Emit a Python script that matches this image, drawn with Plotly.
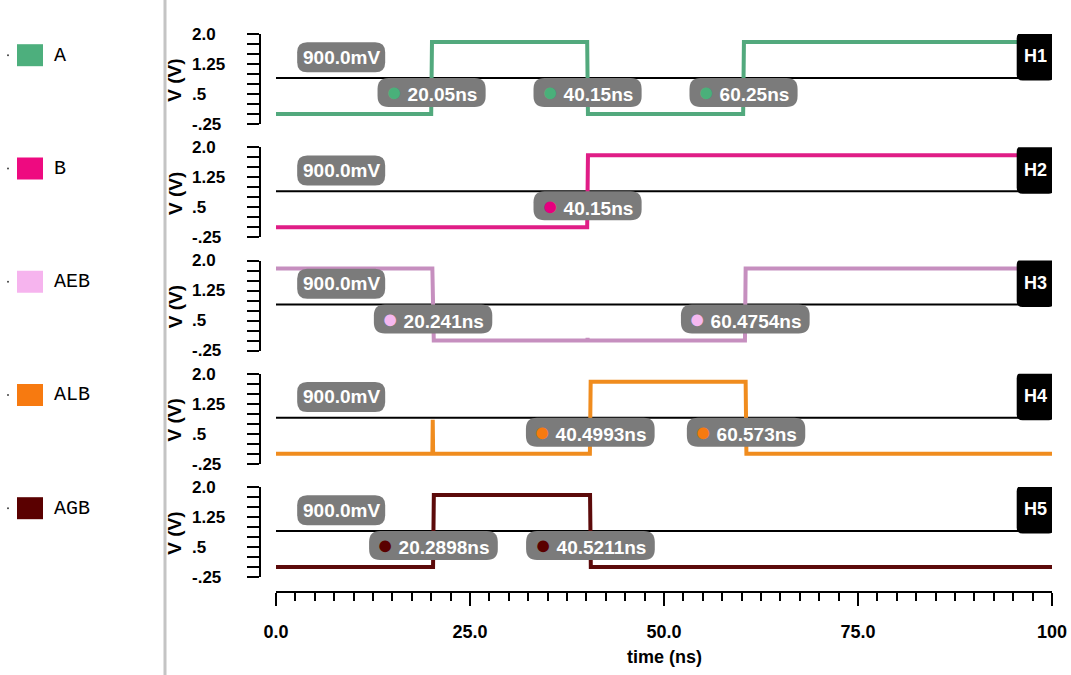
import plotly.graph_objects as go

# ---------------- data ----------------
signals = ["A", "B", "AEB", "ALB", "AGB"]
line_colors = ["#52a97d", "#e01d86", "#c68fbf", "#f08c1e", "#5c0a0a"]
swatch_colors = ["#4daf7d", "#ee0a80", "#f6b4ee", "#f77a10", "#5a0000"]
dot_colors = ["#4ab07a", "#e6007e", "#f5b8f0", "#f77a10", "#5a0000"]

t_A = [0, 20.0, 20.1, 40.1, 40.2, 60.2, 60.3, 100]
v_A = [0, 0, 1.8, 1.8, 0, 0, 1.8, 1.8]
t_B = [0, 40.1, 40.2, 100]
v_B = [0, 0, 1.8, 1.8]
t_AEB = [0, 20.15, 20.33, 40.1, 40.15, 40.2, 60.43, 60.52, 100]
v_AEB = [1.8, 1.8, 0, 0, 0.06, 0, 0, 1.8, 1.8]
t_ALB = [0, 20.15, 20.2, 20.25, 40.45, 40.55, 60.52, 60.62, 100]
v_ALB = [0, 0, 0.85, 0, 0, 1.8, 1.8, 0, 0]
t_AGB = [0, 20.24, 20.34, 40.47, 40.57, 100]
v_AGB = [0, 0, 1.8, 1.8, 0, 0]

cursor_A = [20.05, 40.15, 60.25]
cursor_B = [40.15]
cursor_AEB = [20.241, 60.4754]
cursor_ALB = [40.4993, 60.573]
cursor_AGB = [20.2898, 40.5211]

ref_level = 0.9
ref_label = "900.0mV"
marker_names = ["H1", "H2", "H3", "H4", "H5"]

ytick_vals = [2.0, 1.25, 0.5, -0.25]
ytick_text = ["2.0", "1.25", ".5", "-.25"]
xtick_vals = [0, 25, 50, 75, 100]
xtick_text = ["0.0", "25.0", "50.0", "75.0", "100"]

times = [t_A, t_B, t_AEB, t_ALB, t_AGB]
volts = [v_A, v_B, v_AEB, v_ALB, v_AGB]
cursors = [cursor_A, cursor_B, cursor_AEB, cursor_ALB, cursor_AGB]

# ---------------- layout geometry ----------------
W, H = 1071, 675
ML, MR, MT, MB = 165, 19, 20, 83
PW, PH = W - ML - MR, H - MT - MB
PX_PER_V = 40.0
ZERO0, PANEL_STEP = 114.0, 113.25

def py(p):
    return (H - MB - p) / PH

def px(p):
    return (p - ML) / PW

FONT = "Liberation Sans, Arial, sans-serif"
GRAY = "#7b7b7b"

def rr_path(w, h, r):
    x0, x1, y0, y1 = -w / 2, w / 2, -h / 2, h / 2
    return (f"M {x0+r},{y0} L {x1-r},{y0} Q {x1},{y0} {x1},{y0+r} "
            f"L {x1},{y1-r} Q {x1},{y1} {x1-r},{y1} L {x0+r},{y1} "
            f"Q {x0},{y1} {x0},{y1-r} L {x0},{y0+r} Q {x0},{y0} {x0+r},{y0} Z")

fig = go.Figure()
layout = dict(
    width=W, height=H, margin=dict(l=ML, r=MR, t=MT, b=MB, autoexpand=False),
    paper_bgcolor="white", plot_bgcolor="white", showlegend=False,
    xaxis=dict(domain=[px(276), 1], range=[0, 100], anchor="free", position=0, automargin=False,
               showgrid=False, zeroline=False, showline=True, linecolor="black", linewidth=2,
               ticks="outside", ticklen=13, tickwidth=2, tickcolor="black",
               tickvals=xtick_vals, ticktext=xtick_text, ticklabelstandoff=10,
               tickfont=dict(family=FONT, size=18, color="black", weight="bold"),
               minor=dict(dtick=2.5, tick0=0, ticks="outside", ticklen=8, tickwidth=2,
                          tickcolor="black", showgrid=False)),
)
shapes, annotations = [], []

for k, name in enumerate(signals):
    z = ZERO0 + PANEL_STEP * k
    dom = [py(z + 0.25 * PX_PER_V), py(z - 2.0 * PX_PER_V)]
    yid = "y" if k == 0 else f"y{k+1}"
    ykey = "yaxis" if k == 0 else f"yaxis{k+1}"
    lid = f"y{k+6}"
    lkey = f"yaxis{k+6}"
    layout[ykey] = dict(domain=dom, range=[-0.25, 2.0], anchor="free", position=px(260),
                        side="left", showgrid=False, zeroline=False, showline=True, automargin=False,
                        linecolor="black", linewidth=2, ticks="outside", ticklen=12,
                        tickwidth=2, tickcolor="black", dtick=0.25, tick0=-0.25,
                        showticklabels=False)
    layout[lkey] = dict(overlaying=yid, range=[-0.25, 2.0], anchor="free", position=px(191),
                        side="right", showgrid=False, zeroline=False, showline=False, automargin=False,
                        ticks="", tickvals=ytick_vals, ticktext=ytick_text,
                        tickfont=dict(family=FONT, size=17, color="black", weight="bold"))
    # reference level line
    fig.add_trace(go.Scatter(x=[0, 100], y=[ref_level, ref_level], mode="lines",
                             line=dict(color="black", width=2), yaxis=yid, hoverinfo="skip"))
    # signal
    fig.add_trace(go.Scatter(x=times[k], y=volts[k], mode="lines",
                             line=dict(color=line_colors[k], width=4), yaxis=yid, name=name))
    # dummy for label axis
    fig.add_trace(go.Scatter(x=[None], y=[None], yaxis=lid, hoverinfo="skip"))

    # 900mV label
    shapes.append(dict(type="path", path=rr_path(88, 30, 10), xsizemode="pixel", ysizemode="pixel",
                       xanchor=8.4, yanchor=1.42, xref="x", yref=yid, fillcolor=GRAY,
                       line=dict(width=0), layer="above"))
    annotations.append(dict(x=8.4, y=1.42, xref="x", yref=yid, text=ref_label, showarrow=False,
                            xanchor="center", yanchor="middle",
                            font=dict(family=FONT, size=19, color="white", weight="bold")))
    # cursor labels
    for t in cursors[k]:
        label = f"{t}ns"
        w = 36 + 10.3 * len(label)
        shapes.append(dict(type="path", path=rr_path(w, 29, 11), xsizemode="pixel",
                           ysizemode="pixel", xanchor=t, yanchor=0.54, xref="x", yref=yid,
                           fillcolor=GRAY, line=dict(width=0), layer="above"))
        annotations.append(dict(x=t, y=0.54, xref="x", yref=yid, showarrow=False,
                                xanchor="center", yanchor="middle",
                                text=f"<span style='color:{dot_colors[k]};font-size:27px'>●</span> {label}",
                                font=dict(family=FONT, size=19, color="white", weight="bold")))
    # H marker box
    shapes.append(dict(type="path", path=rr_path(38, 48, 6), xsizemode="pixel", ysizemode="pixel",
                       xanchor=97.9, yanchor=1.44, xref="x", yref=yid, fillcolor="black",
                       line=dict(width=0), layer="above"))
    annotations.append(dict(x=97.9, y=1.44, xref="x", yref=yid, text=marker_names[k], showarrow=False,
                            xanchor="center", yanchor="middle",
                            font=dict(family=FONT, size=18, color="white", weight="bold")))
    # y title
    annotations.append(dict(x=px(175), y=0.83, xref="paper", yref=yid, text="V (V)", textangle=-90,
                            showarrow=False, xanchor="center", yanchor="middle",
                            font=dict(family=FONT, size=19, color="black", weight="bold")))
    # legend swatch
    shapes.append(dict(type="rect", xref="paper", yref=yid, x0=px(17), x1=px(43),
                       y0=1.47 - 11 / PX_PER_V, y1=1.47 + 11 / PX_PER_V,
                       fillcolor=swatch_colors[k], line=dict(width=0)))
    shapes.append(dict(type="circle", xref="paper", yref=yid, x0=px(7), x1=px(9),
                       y0=1.47 - 1 / PX_PER_V, y1=1.47 + 1 / PX_PER_V,
                       fillcolor="#444", line=dict(width=0)))
    annotations.append(dict(x=px(52), y=1.47, xref="paper", yref=yid, text=name, xanchor="left",
                            yanchor="middle", showarrow=False,
                            font=dict(family="Liberation Mono, DejaVu Sans Mono", size=20,
                                      color="black")))

# separator line
shapes.append(dict(type="line", xref="paper", yref="paper", x0=0, x1=0,
                   y0=py(H), y1=py(0), line=dict(color="#c4c4c4", width=3)))
# x title
annotations.append(dict(x=50, y=py(657), xref="x", yref="paper", text="time (ns)", showarrow=False,
                        xanchor="center", yanchor="middle",
                        font=dict(family=FONT, size=18, color="black", weight="bold")))

layout["shapes"] = shapes
layout["annotations"] = annotations
fig.update_layout(**layout)
fig.write_html("out.html")
